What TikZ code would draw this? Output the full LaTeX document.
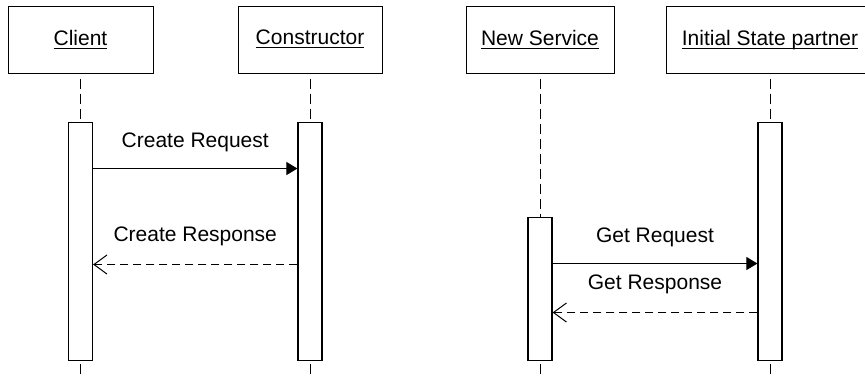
\documentclass[tikz,border=0pt]{standalone}
\usepackage{fontspec}
\setmainfont{Liberation Sans}
\usepackage{tikz}
\usetikzlibrary{
    arrows.meta,
    positioning,
    calc
}

\newcommand\ulname[1]{\underline{\raisebox{0pt}[\height][0pt]{#1}}}

\begin{document}
\begin{tikzpicture}[
        x=0.5pt,
        y=-0.5pt,
        font=\fontsize{10.5}{12.6}\selectfont,
        head/.style={
            rectangle,
            draw,
            line width=0.5pt,
            minimum height=33.5pt,
            inner sep=0pt
        },
        bar/.style={
            rectangle,
            draw,
            fill=white,
            line width=0.6pt,
            minimum width=12pt,
            inner sep=0pt
        },
        lifeline/.style={
            line width=0.5pt,
            dash pattern=on 5pt off 2.5pt,
            dash phase=5pt
        },
        call/.style={
            -{Triangle[length=5.5pt,width=6.5pt]},
            line width=0.5pt
        },
        reply/.style={
            -{Straight Barb[length=6.5pt,width=9.5pt]},
            line width=0.5pt,
            dash pattern=on 4pt off 2.5pt
        }
    ]

    \clip (0,0) rectangle (865,377);

    \node[head, minimum width=72.5pt] (client) at (80.5,39.5)
        {\ulname{Client}};

    \node[head, minimum width=72pt, right=42pt of client] (ctor)
        {\ulname{Constructor}};

    \node[head, minimum width=74pt, right=41.5pt of ctor] (newsvc)
        {\ulname{New Service}};

    \node[head, minimum width=104pt, right=25.5pt of newsvc] (initstate)
        {\ulname{Initial State partner}};

    \coordinate[below=152pt of client] (clientend);
    \coordinate[below=152pt of ctor] (ctorend);
    \coordinate[below=152pt of newsvc] (newsvcend);
    \coordinate[below=152pt of initstate] (initstateend);

    \draw[lifeline] (client) -- (clientend);
    \draw[lifeline] (ctor) -- (ctorend);
    \draw[lifeline] (newsvc) -- (newsvcend);
    \draw[lifeline] (initstate) -- (initstateend);

    \node[bar, minimum height=119pt, below=24pt of client] (clientbar) {};
    \node[bar, minimum height=119pt, below=24pt of ctor] (ctorbar) {};
    \node[bar, minimum height=71.5pt, below=71.5pt of newsvc] (newsvcbar) {};
    \node[bar, minimum height=119pt, below=24pt of initstate] (initstatebar) {};

    \path ([yshift=-23.5pt]clientbar.north east) coordinate (createreq);
    \path ([yshift=-71.5pt]ctorbar.north west) coordinate (createresp);
    \path ([yshift=-23.5pt]newsvcbar.north east) coordinate (getreq);
    \path ([yshift=-48pt]newsvcbar.north east) coordinate (getresp);

    \draw[call]
        (createreq)
        --
        node[above=4.8pt] {Create Request}
        (createreq -| ctorbar.west);

    \draw[reply]
        (createresp)
        --
        node[above=5.8pt] {Create Response}
        (createresp -| clientbar.east);

    \draw[call]
        (getreq)
        --
        node[above=4.8pt] {Get Request}
        (getreq -| initstatebar.west);

    \draw[reply]
        (getresp -| initstatebar.west)
        --
        node[above=5.8pt] {Get Response}
        (getresp);

\end{tikzpicture}
\end{document}
